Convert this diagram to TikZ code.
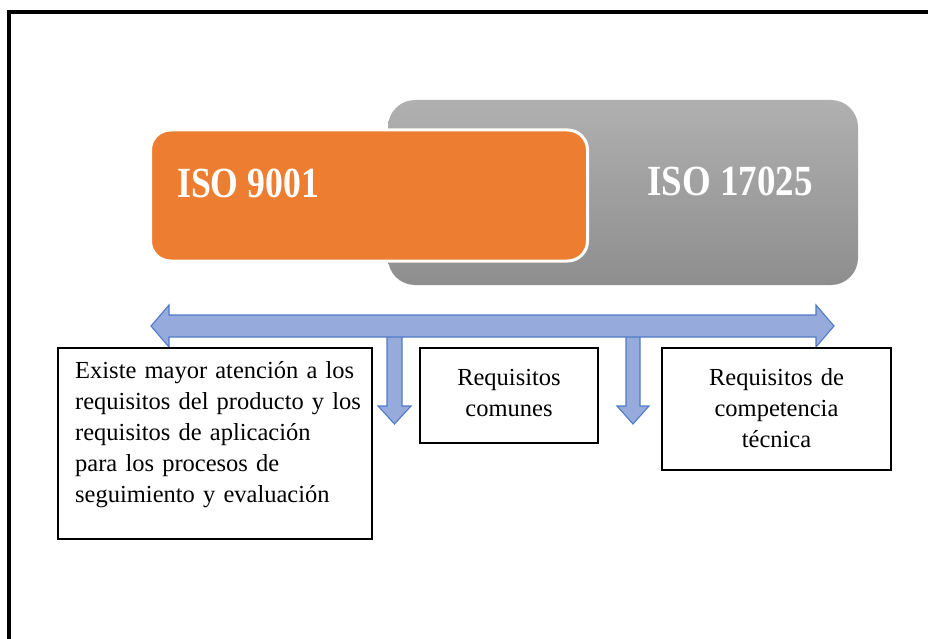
\documentclass[tikz,border=0pt]{standalone}
\usepackage{fontspec}
\usepackage{graphicx}
\setmainfont{Liberation Serif}
\usetikzlibrary{calc}
\definecolor{isoorange}{RGB}{237,125,49}
\definecolor{graytop}{RGB}{176,176,176}
\definecolor{graybot}{RGB}{142,142,142}
\definecolor{arrowfill}{RGB}{150,171,220}
\definecolor{arrowline}{RGB}{80,122,200}
\tikzset{
  bigtitle/.style={text=white, inner sep=0pt, font=\fontsize{43}{50}\selectfont\bfseries},
  reqbox/.style={draw=black, line width=1.3pt, fill=white, inner sep=0pt, rectangle},
  reqtext/.style={inner sep=0pt, font=\fontsize{24.5}{31}\selectfont},
  bluearrow/.style={fill=arrowfill, draw=arrowline, line width=1.1pt, line join=miter},
}
\begin{document}
\begin{tikzpicture}[x=1pt,y=-1pt]
\useasboundingbox (0,0) rectangle (928,639);
\fill[white] (0,0) rectangle (928,639);
% outer frame (open to the right and bottom)
\coordinate (fbl) at (9,660);
\coordinate (ftl) at (9,12);
\coordinate (ftr) at (950,12);
\draw[line width=3.5pt] (fbl) -- (ftl) -- (ftr);
% gray box
\node[rectangle, rounded corners=27pt, top color=graytop, bottom color=graybot,
      minimum width=470pt, minimum height=185pt, inner sep=0pt] (gray) at (623,192.5) {};
\node[bigtitle, anchor=base west] (t17025) at (647,195) {\scalebox{0.86}[1]{ISO 17025}};
% orange box
\node[rectangle, rounded corners=20pt, fill=isoorange, draw=white, line width=3pt,
      minimum width=437pt, minimum height=131pt, inner sep=0pt] (orange) at (369,195.5) {};
\node[bigtitle, anchor=base west] (t9001) at (177,197) {\scalebox{0.83}[1]{ISO 9001}};
% down arrows
\coordinate (d1) at (394.5,424);
\coordinate (d2) at (633,424);
\draw[bluearrow] ($(d1)+(-7.5,-94)$) -- ($(d1)+(-7.5,-18)$) -- ($(d1)+(-16.5,-18)$) -- (d1)
   -- ($(d1)+(16.5,-18)$) -- ($(d1)+(7.5,-18)$) -- ($(d1)+(7.5,-94)$) -- cycle;
\draw[bluearrow] ($(d2)+(-7,-94)$) -- ($(d2)+(-7,-18)$) -- ($(d2)+(-16,-18)$) -- (d2)
   -- ($(d2)+(16,-18)$) -- ($(d2)+(7,-18)$) -- ($(d2)+(7,-94)$) -- cycle;
% horizontal double arrow
\coordinate (hl) at (151,326);
\coordinate (hr) at (834,326);
\draw[bluearrow] (hl) -- ($(hl)+(18,-21)$) -- ($(hl)+(18,-11)$) -- ($(hr)+(-18,-11)$)
   -- ($(hr)+(-18,-21)$) -- (hr) -- ($(hr)+(-18,21)$) -- ($(hr)+(-18,11)$)
   -- ($(hl)+(18,11)$) -- ($(hl)+(18,21)$) -- cycle;
% requirement boxes
\node[reqbox, minimum width=314pt, minimum height=191pt] (b1) at (215,443.5) {};
\node[reqtext, anchor=base west, text width=300pt, align=left] (x1) at (75,378)
  {Existe mayor atención a los\\requisitos del producto y los\\requisitos de aplicación\\para los procesos de\\seguimiento y evaluación};
\node[reqbox, minimum width=178pt, minimum height=95pt] (b2) at (509,395.5) {};
\node[reqtext, anchor=base, text width=170pt, align=center] (x2) at (509,385)
  {Requisitos\\comunes};
\node[reqbox, minimum width=229pt, minimum height=122pt] (b3) at (776.5,409) {};
\node[reqtext, anchor=base, text width=220pt, align=center] (x3) at (776.5,385)
  {Requisitos de\\competencia\\técnica};
\end{tikzpicture}
\end{document}
